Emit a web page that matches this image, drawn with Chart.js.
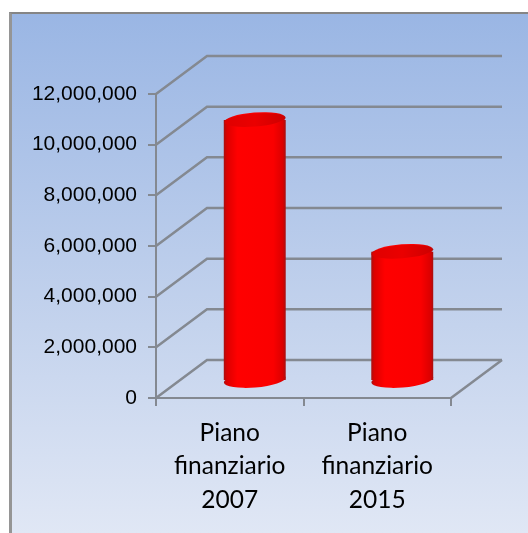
<!DOCTYPE html>
<html>
<head>
<meta charset="utf-8">
<style>
    html, body { margin: 0; padding: 0; background: #fff; overflow: hidden; }
    #frame {
        position: absolute; left: 9px; top: 12px; width: 519px; height: 521px;
        box-sizing: border-box; border-left: 3px solid #959595; border-top: 2px solid #858585;
        background: linear-gradient(to bottom, #9ab6e4 0%, #c4d3ed 60%, #e0e7f5 100%);
    }
    #chart { position: absolute; left: 0; top: 0; }
</style>
<script src="https://cdn.jsdelivr.net/npm/chart.js@4"></script>
</head>
<body>
<div id="frame"></div>
<canvas id="chart" width="528" height="533"></canvas>
<script>
// Chart data
const categories = [
    ['Piano', 'finanziario', '2007'],
    ['Piano', 'finanziario', '2015']
];
const values = [10300000, 5100000];
const yTicks = [0, 2000000, 4000000, 6000000, 8000000, 10000000, 12000000];

const GRID = '#848991';
const DEPTH_X = 51, DEPTH_Y = 38;      // 3D wall offset
const BAR_DX = 25, BAR_DY = 17;        // cylinders sit mid depth
const BAR_PCT = 0.42;
const RX_TILT = -0.08, CAP_RY = 7.5;

function sideGradient(ctx, x, w) {
    const g = ctx.createLinearGradient(x - w / 2, 0, x + w / 2, 0);
    g.addColorStop(0, '#a81010');
    g.addColorStop(0.05, '#dc0000');
    g.addColorStop(0.22, '#ff0000');
    g.addColorStop(0.8, '#fa0000');
    g.addColorStop(0.95, '#dc0000');
    g.addColorStop(1, '#a81010');
    return g;
}

function barFill(c) {
    const sx = c.chart.scales.x;
    if (!sx || c.dataIndex === undefined) return '#f00';
    const x = sx.getPixelForValue(c.dataIndex);
    if (!Number.isFinite(x)) return '#f00';
    return sideGradient(c.chart.ctx, x, sx.width / categories.length * BAR_PCT);
}

// Walls and floor, built from the axis ticks
const walls = {
    id: 'walls',
    beforeDatasetsDraw(chart) {
        const { ctx, scales: { x, y } } = chart;
        ctx.save();
        ctx.strokeStyle = GRID;
        ctx.lineWidth = 2.5;
        y.ticks.forEach(t => {
            const py = y.getPixelForValue(t.value);
            ctx.beginPath();
            ctx.moveTo(x.left, py);
            ctx.lineTo(x.left + DEPTH_X, py - DEPTH_Y);
            ctx.lineTo(x.right + DEPTH_X, py - DEPTH_Y);
            ctx.stroke();
        });
        const py0 = y.getPixelForValue(0);
        ctx.beginPath();
        ctx.moveTo(x.right, py0);
        ctx.lineTo(x.right + DEPTH_X, py0 - DEPTH_Y);
        ctx.stroke();
        ctx.restore();
    }
};

// Turns the library's bars into cylinders
const cylinders = {
    id: 'cylinders',
    beforeDatasetDraw(chart, args) {
        const { ctx } = chart;
        ctx.save();
        ctx.translate(BAR_DX, -BAR_DY);
        args.meta.data.forEach(bar => {
            ctx.fillStyle = sideGradient(ctx, bar.x, bar.width);
            ctx.beginPath();
            ctx.ellipse(bar.x, bar.base, bar.width / 2, CAP_RY, RX_TILT, 0, Math.PI * 2);
            ctx.fill();
        });
    },
    afterDatasetDraw(chart, args) {
        const { ctx } = chart;
        args.meta.data.forEach(bar => {
            const rx = bar.width / 2;
            ctx.fillStyle = sideGradient(ctx, bar.x, bar.width);
            ctx.beginPath();
            ctx.ellipse(bar.x, bar.y, rx, CAP_RY, RX_TILT, 0, Math.PI * 2);
            ctx.fill();
            // darker top of the cylinder
            const top = ctx.createLinearGradient(bar.x - rx, 0, bar.x + rx, 0);
            top.addColorStop(0, '#e00000');
            top.addColorStop(0.5, '#ea0000');
            top.addColorStop(0.8, '#d80000');
            top.addColorStop(1, '#cc0000');
            ctx.fillStyle = top;
            ctx.beginPath();
            ctx.ellipse(bar.x, bar.y, rx - 1, CAP_RY - 1, RX_TILT, 0, Math.PI * 2);
            ctx.fill();
        });
        ctx.restore();
    }
};

new Chart(document.getElementById('chart').getContext('2d'), {
    type: 'bar',
    data: {
        labels: categories,
        datasets: [{
            data: values,
            clip: false,
            barPercentage: BAR_PCT,
            categoryPercentage: 1,
            borderWidth: 0,
            backgroundColor: barFill
        }]
    },
    options: {
        responsive: false,
        animation: false,
        layout: { padding: { left: 0, right: 77, top: 94, bottom: 0 } },
        plugins: { legend: { display: false }, tooltip: { enabled: false } },
        scales: {
            x: {
                afterFit: s => { s.height = 135; },
                border: { color: GRID, width: 2 },
                grid: { color: GRID, lineWidth: 2, drawOnChartArea: false, tickLength: 8 },
                ticks: {
                    color: '#000', padding: 10, maxRotation: 0, autoSkip: false,
                    font: { family: 'Lato', size: 24.5, lineHeight: 1.37 }
                }
            },
            y: {
                min: 0,
                max: 12000000,
                afterFit: s => { s.width = 156; },
                afterBuildTicks: s => { s.ticks = yTicks.map(v => ({ value: v })); },
                border: { color: GRID, width: 2 },
                grid: { color: GRID, lineWidth: 2, drawOnChartArea: false, tickLength: 8 },
                ticks: {
                    color: '#000', padding: 11,
                    font: { family: '"Liberation Sans"', size: 21 },
                    callback: v => v.toLocaleString('en-US')
                }
            }
        }
    },
    plugins: [walls, cylinders]
});
</script>
</body>
</html>
